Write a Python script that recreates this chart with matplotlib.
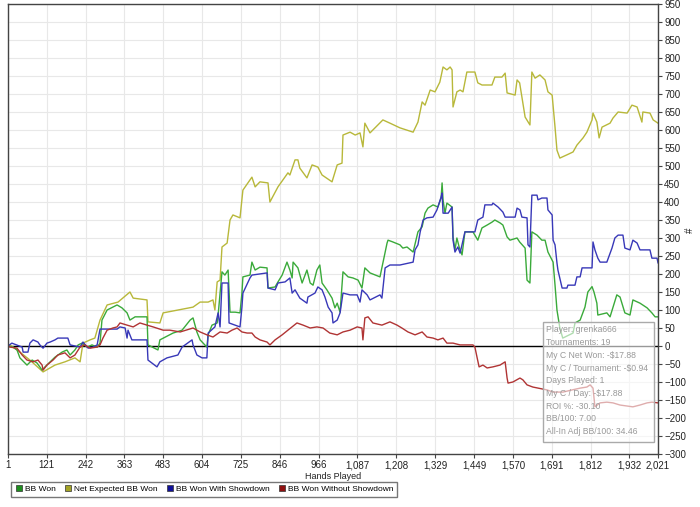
import matplotlib
matplotlib.use('Agg')
import matplotlib.pyplot as plt
from matplotlib.lines import Line2D
from matplotlib.ticker import FuncFormatter

plt.rcParams['font.family'] = ['Liberation Sans', 'DejaVu Sans']

# ---- data ----
xticks = [1, 121, 242, 363, 483, 604, 725, 846, 966, 1087, 1208, 1329, 1449, 1570, 1691, 1812, 1932, 2021]

# BB Won
won_h = [1, 17, 29, 38, 60, 76, 91, 107, 116, 132, 147, 169, 184, 194, 209, 219, 231, 247, 262, 278, 287, 293,
         309, 340, 355, 371, 380, 396, 433, 436, 467, 473, 514, 542, 567, 576, 588, 598, 619, 623, 635, 651, 654,
         666, 675, 685, 691, 707, 722, 728, 731, 753, 759, 769, 784, 806, 809, 831, 840, 853, 868, 877, 884, 887,
         902, 915, 930, 940, 949, 961, 970, 977, 992, 1008, 1017, 1024, 1033, 1042, 1058, 1073, 1089, 1101, 1110,
         1126, 1157, 1179, 1182, 1197, 1219, 1228, 1241, 1260, 1275, 1288, 1297, 1306, 1322, 1337, 1347, 1350,
         1353, 1359, 1365, 1381, 1384, 1390, 1396, 1403, 1412, 1421, 1446, 1461, 1474, 1490, 1505, 1514, 1530,
         1539, 1552, 1561, 1583, 1591, 1608, 1614, 1623, 1629, 1645, 1660, 1670, 1679, 1695, 1701, 1707, 1716,
         1725, 1757, 1763, 1779, 1794, 1803, 1816, 1822, 1831, 1834, 1862, 1872, 1893, 1903, 1918, 1934, 1943,
         1965, 1987, 2002, 2012, 2021]
won_v = [0, -3, -11, -33, -53, -39, -47, -67, -58, -44, -31, -17, -11, -25, -11, 3, 8, -3, 3, -3, 8, 72,
         100, 114, 106, 92, 72, 81, 81, 3, -11, 17, 36, 44, 72, 78, 39, 17, -3, 31, 58, 64, 86,
         206, 197, 211, 94, 94, 92, 147, 192, 197, 233, 211, 219, 217, 161, 164, 178, 197, 233, 211, 189, 233,
         217, 175, 211, 175, 169, 211, 225, 175, 156, 133, 106, 119, 94, 206, 192, 189, 183, 161, 217,
         203, 192, 286, 294, 289, 281, 272, 275, 261, 317, 331, 369, 383, 392, 386, 411, 453,
         406, 369, 397, 386, 303, 267, 300, 275, 253, 317, 317, 294, 328, 336, 344, 350, 342,
         336, 303, 294, 300, 289, 272, 183, 175, 317, 308, 294, 294, 261, 233, 169, 100, 50,
         22, 36, 64, 72, 108, 150, 165, 150, 119, 86, 92, 81, 142, 136, 92, 86, 128,
         119, 106, 92, 81, 81]

# Net Expected BB Won
exp_h = [1, 7, 38, 69, 110, 147, 178, 209, 225, 234, 256, 271, 287, 309, 343, 380, 390, 433, 436, 473, 483,
         576, 598, 623, 638, 644, 651, 660, 666, 682, 691, 700, 722, 731, 759, 769, 784, 809, 815, 840, 871,
         877, 893, 902, 908, 930, 946, 964, 977, 1008, 1024, 1039, 1042, 1064, 1080, 1095, 1104, 1110, 1126,
         1166, 1188, 1219, 1260, 1275, 1288, 1297, 1313, 1328, 1343, 1353, 1365, 1375, 1381, 1384, 1396, 1406,
         1415, 1427, 1452, 1461, 1474, 1505, 1514, 1536, 1546, 1552, 1577, 1583, 1591, 1608, 1623, 1629, 1639,
         1654, 1670, 1679, 1692, 1701, 1707, 1716, 1738, 1757, 1769, 1788, 1800, 1816, 1819, 1831, 1838, 1847,
         1872, 1881, 1897, 1925, 1940, 1956, 1971, 1974, 1996, 2006, 2021]
exp_v = [0, 3, -17, -39, -72, -53, -44, -33, -44, 8, 17, 22, 72, 114, 122, 150, 133, 128, 67, 64, 92,
         108, 122, 122, 128, 100, 178, 183, 275, 286, 350, 364, 356, 433, 469, 442, 456, 453, 400, 442, 481,
         475, 517, 517, 494, 467, 503, 497, 475, 456, 503, 508, 586, 594, 586, 592, 553, 619, 592,
         628, 619, 606, 594, 622, 678, 669, 711, 706, 733, 775, 767, 775, 767, 664, 706, 711,
         706, 761, 761, 731, 725, 725, 747, 747, 758, 703, 697, 739, 731, 636, 614, 761, 744,
         753, 739, 706, 697, 608, 544, 522, 531, 539, 558, 578, 594, 628, 647, 622, 578, 608,
         619, 633, 650, 647, 669, 664, 622, 650, 647, 628, 619]

# BB Won With Showdown
sd_h = [1, 13, 45, 48, 63, 69, 79, 94, 100, 110, 122, 132, 147, 156, 187, 194, 225, 234, 250, 265, 278, 287,
        340, 349, 365, 371, 374, 386, 433, 436, 464, 473, 495, 529, 542, 573, 576, 588, 604, 619, 623, 644,
        654, 660, 666, 685, 688, 707, 722, 728, 731, 753, 759, 806, 809, 831, 840, 862, 877, 884, 893, 908,
        930, 933, 955, 964, 977, 986, 996, 1008, 1011, 1024, 1033, 1042, 1064, 1086, 1095, 1101, 1117, 1126,
        1157, 1163, 1173, 1188, 1219, 1260, 1266, 1275, 1282, 1291, 1303, 1322, 1334, 1347, 1350, 1353, 1369,
        1381, 1384, 1390, 1399, 1406, 1421, 1452, 1461, 1477, 1483, 1505, 1508, 1524, 1539, 1546, 1577, 1583,
        1592, 1598, 1614, 1617, 1623, 1629, 1645, 1648, 1660, 1676, 1679, 1692, 1695, 1701, 1707, 1710, 1723,
        1738, 1741, 1763, 1769, 1779, 1785, 1816, 1819, 1825, 1834, 1841, 1862, 1878, 1887, 1897, 1912, 1918,
        1934, 1943, 1956, 1965, 1996, 2002, 2018, 2021]
sd_v = [0, 8, -3, -17, -17, 8, 17, 11, 3, -6, 8, 11, 17, 22, 22, 3, -3, 11, -6, -3, 3, 47,
        47, 53, 50, 22, 44, 17, 17, -39, -58, -44, -33, -25, -3, 17, 3, -25, -33, -33, 36, 53,
        92, 53, 175, 175, 64, 58, 53, 108, 147, 189, 197, 203, 161, 156, 175, 178, 189, 147, 156, 133,
        119, 136, 147, 164, 156, 136, 108, 92, 64, 72, 92, 147, 142, 142, 122, 156, 142, 128,
        142, 133, 217, 225, 225, 233, 267, 281, 317, 350, 356, 358, 378, 414, 425, 369, 369,
        386, 294, 261, 275, 258, 317, 317, 350, 358, 392, 392, 397, 386, 372, 358, 358, 383,
        378, 358, 356, 281, 275, 419, 419, 406, 411, 411, 378, 364, 294, 281, 231, 211, 161,
        161, 169, 169, 192, 192, 217, 217, 289, 267, 244, 233, 233, 272, 300, 308, 308, 272,
        267, 294, 286, 267, 267, 244, 244, 231]

# BB Won Without Showdown
nsd_h = [1, 7, 29, 45, 60, 79, 94, 107, 110, 122, 141, 156, 178, 194, 209, 225, 240, 256, 278, 287, 296, 309,
         327, 340, 349, 371, 390, 411, 433, 452, 483, 504, 536, 576, 598, 619, 638, 660, 682, 697, 713, 728,
         744, 759, 769, 784, 806, 815, 831, 853, 871, 899, 918, 940, 961, 980, 1001, 1024, 1042, 1064, 1086,
         1101, 1104, 1110, 1120, 1135, 1163, 1188, 1210, 1225, 1244, 1266, 1288, 1303, 1322, 1337, 1353, 1365,
         1384, 1406, 1446, 1452, 1459, 1465, 1477, 1490, 1508, 1530, 1546, 1552, 1555, 1570, 1592, 1601, 1614,
         1632, 1676, 1695, 1726, 1754, 1779, 1800, 1810, 1819, 1825, 1841, 1862, 1881, 1903, 1943, 1965, 1987,
         2002, 2021]
nsd_v = [0, -3, -6, -25, -39, -44, -39, -53, -67, -53, -39, -25, -19, -33, -25, -3, 3, -6, -3, 3, 22, 44,
         50, 53, 64, 58, 53, 64, 58, 53, 44, 44, 39, 50, 39, 31, 25, 39, 36, 44, 50, 39,
         36, 36, 25, 17, 11, 3, 17, 31, 44, 64, 58, 50, 53, 50, 36, 31, 39, 44, 53,
         50, 17, 78, 81, 64, 58, 67, 58, 50, 39, 31, 39, 25, 22, 17, 22, 8,
         8, 3, 3, -3, -33, -58, -53, -61, -58, -53, -44, -89, -103, -100, -89, -94, -108,
         -114, -122, -128, -128, -122, -117, -114, -108, -117, -169, -158, -156, -158, -164, -169, -164, -158,
         -156, -158]

info_lines = ['Player: grenka666', 'Tournaments: 19', 'My C Net Won: -$17.88', 'My C / Tournament: -$0.94',
              'Days Played: 1', 'My C / Day: -$17.88', 'ROI %: -30.10', 'BB/100: 7.00', 'All-In Adj BB/100: 34.46']

# ---- figure ----
fig = plt.figure(figsize=(7, 5.07), dpi=100)
ax = fig.add_axes([8/700, 1-454/507, 650/700, 450/507])

ax.plot(exp_h, exp_v, color='#b8b83a', lw=1)
ax.plot(won_h, won_v, color='#3aaa3a', lw=1)
ax.plot(sd_h, sd_v, color='#3838b8', lw=1)
ax.plot(nsd_h, nsd_v, color='#b03434', lw=1)
ax.axhline(0, color='black', lw=1, zorder=1.5)

ax.set_xlim(1, 2021)
ax.set_ylim(-300, 950)
ax.set_xticks(xticks)
ax.xaxis.set_major_formatter(FuncFormatter(lambda v, p: '{:,}'.format(int(v))))
ax.set_yticks(range(-300, 951, 50))
ax.yaxis.tick_right()
ax.tick_params(labelsize=7, length=3, color='#444444', labelcolor='#222222', pad=1.5)
ax.grid(True, color='#e8e8e8', lw=0.8)
ax.set_axisbelow(True)
for s in ax.spines.values():
    s.set_color('#444444')
    s.set_linewidth(1)

ax.set_xlabel('Hands Played', fontsize=6.5, labelpad=1, color='#222222')
fig.text(690/700, 1-230/507, '#', fontsize=7, rotation=90, ha='center', va='center', color='#222222')

# info box (semi transparent, lines show through faded)
ax.add_patch(plt.Rectangle((0.823, 0.027), 0.171, 0.267, transform=ax.transAxes, facecolor='white',
                           alpha=0.6, edgecolor='none', zorder=5))
ax.add_patch(plt.Rectangle((0.823, 0.027), 0.171, 0.267, transform=ax.transAxes, facecolor='none',
                           edgecolor='#aaaaaa', lw=1, zorder=6))
for i, line in enumerate(info_lines):
    ax.text(0.828, 0.276 - i * 0.0283, line, transform=ax.transAxes, fontsize=6.2, color='#999999',
            va='center', ha='left', zorder=7)

# legend
handles = [Line2D([], [], marker='s', ls='none', ms=5, mfc=c, mec='#333333', mew=0.5)
           for c in ['#1f8f1f', '#a3a325', '#101099', '#8f1010']]
labels = ['BB Won', 'Net Expected BB Won', 'BB Won With Showdown', 'BB Won Without Showdown']
leg = fig.legend(handles, labels, loc='lower left', bbox_to_anchor=(7/700, 1-501/507), ncol=4,
                 fontsize=6, frameon=True, fancybox=False, handletextpad=0.2, columnspacing=1.0,
                 borderpad=0.45, handlelength=1.0)
leg.get_frame().set_edgecolor('#555555')
leg.get_frame().set_linewidth(1)

fig.savefig('out.png', dpi=100)
